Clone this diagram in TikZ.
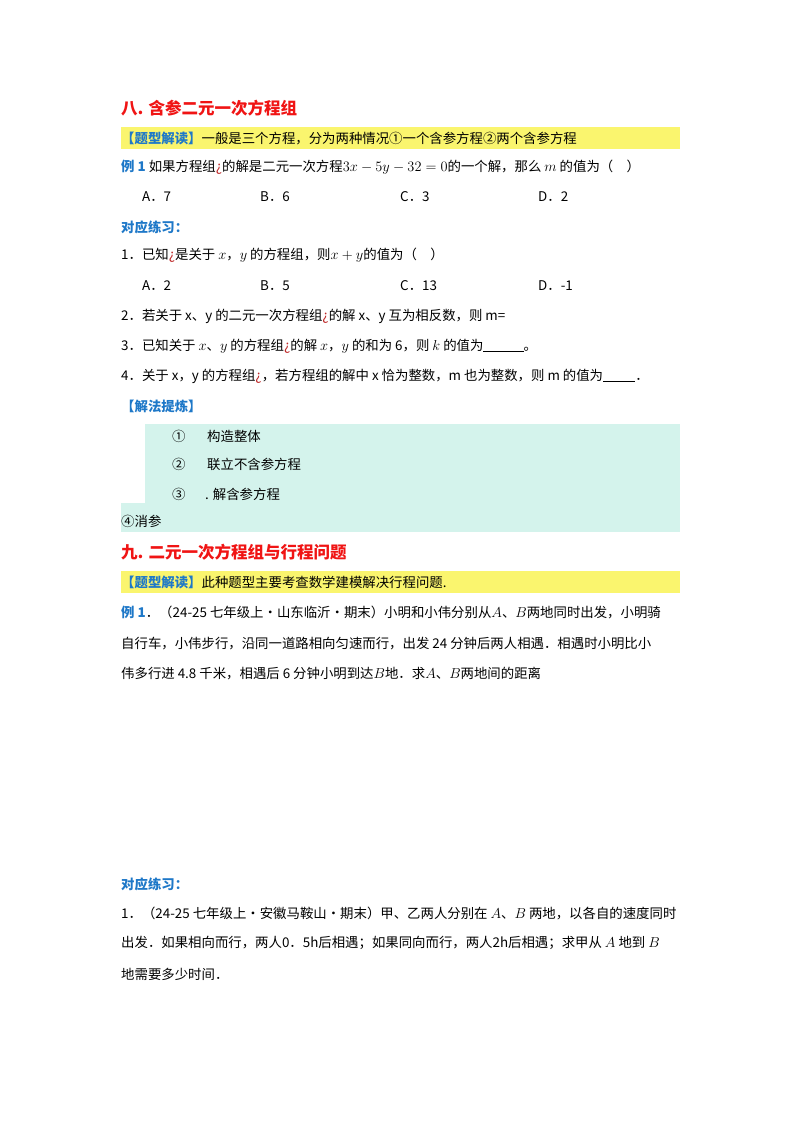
\documentclass[tikz,border=0pt]{standalone}
\usepackage{fontspec}
\setmainfont{Noto Sans CJK SC}
\definecolor{ttred}{RGB}{240,20,20}
\definecolor{ttblue}{RGB}{30,120,200}
\definecolor{hlyel}{RGB}{250,245,110}
\definecolor{boxcyan}{RGB}{212,243,236}
\definecolor{qmark}{RGB}{190,40,40}
\newcommand{\qm}{{\color{qmark}¿}}
\newcommand{\blank}[1]{\underline{\hspace{#1}}}
\tikzset{
 txt/.style={anchor=west,inner sep=0pt,font=\fontsize{13.4}{16}\selectfont},
 ttl/.style={anchor=west,inner sep=0pt,text=ttred,font=\fontsize{16.5}{19}\selectfont\bfseries},
 sub/.style={anchor=west,inner sep=0pt,text=ttblue,font=\fontsize{13.4}{16}\selectfont\bfseries}
}
\begin{document}
\begin{tikzpicture}[x=1pt,y=-1pt]
\useasboundingbox[fill=white] (0,0) rectangle (800,1132);
% backgrounds
\fill[hlyel] (121,127) rectangle (680,149);
\fill[boxcyan] (145,424) rectangle (680,504);
\fill[boxcyan] (121,503) rectangle (680,532);
\fill[hlyel] (121,571) rectangle (680,593);
% section 8
\node[ttl] (t8) at (121,108) {八. 含参二元一次方程组};
\node[txt] (r1) at (121,138) {{\color{ttblue}\bfseries【题型解读】}一般是三个方程，分为两种情况①一个含参方程②两个含参方程};
\node[txt] (e1) at (121,167) {{\color{ttblue}\bfseries 例 1} 如果方程组\qm 的解是二元一次方程$3x-5y-32=0$的一个解，那么 $m$ 的值为（\quad）};
\node[txt] (o1a) at (142,197) {A．7};
\node[txt] (o1b) at (260,197) {B．6};
\node[txt] (o1c) at (400,197) {C．3};
\node[txt] (o1d) at (538,197) {D．2};
\node[sub] (p8) at (121,227) {对应练习：};
\node[txt] (q1) at (121,255) {1．已知\qm 是关于 $x$，$y$ 的方程组，则$x+y$的值为（\quad）};
\node[txt] (o2a) at (142,286) {A．2};
\node[txt] (o2b) at (260,286) {B．5};
\node[txt] (o2c) at (400,286) {C．13};
\node[txt] (o2d) at (538,286) {D．-1};
\node[txt] (q2) at (121,316) {2．若关于 x、y 的二元一次方程组\qm 的解 x、y 互为相反数，则 m=};
\node[txt] (q3) at (121,346) {3．已知关于 $x$、$y$ 的方程组\qm 的解 $x$，$y$ 的和为 6，则 $k$ 的值为\blank{3em}。};
\node[txt] (q4) at (121,376) {4．关于 x，y 的方程组\qm，若方程组的解中 x 恰为整数，m 也为整数，则 m 的值为\blank{2.4em}．};
\node[sub] (jf) at (121,406) {【解法提炼】};
\node[txt] (s1n) at (172,436) {①}; \node[txt] (s1) at (207,436) {构造整体};
\node[txt] (s2n) at (172,464) {②}; \node[txt] (s2) at (207,464) {联立不含参方程};
\node[txt] (s3n) at (172,494) {③}; \node[txt] (s3) at (205,494) {. 解含参方程};
\node[txt] (s4) at (121,521) {④消参};
% section 9
\node[ttl] (t9) at (121,552) {九. 二元一次方程组与行程问题};
\node[txt] (r2) at (121,582) {{\color{ttblue}\bfseries【题型解读】}此种题型主要考查数学建模解决行程问题.};
\node[txt] (e2a) at (121,612) {{\color{ttblue}\bfseries 例 1}．（24-25 七年级上·山东临沂·期末）小明和小伟分别从$A$、$B$两地同时出发，小明骑};
\node[txt] (e2b) at (121,644) {自行车，小伟步行，沿同一道路相向匀速而行，出发 24 分钟后两人相遇．相遇时小明比小};
\node[txt] (e2c) at (121,674) {伟多行进 4.8 千米，相遇后 6 分钟小明到达$B$地．求$A$、$B$两地间的距离};
\node[sub] (p9) at (121,884) {对应练习：};
\node[txt] (w1a) at (121,913) {1．（24-25 七年级上·安徽马鞍山·期末）甲、乙两人分别在 $A$、$B$ 两地，以各自的速度同时};
\node[txt] (w1b) at (121,943) {出发．如果相向而行，两人0．5h后相遇；如果同向而行，两人2h后相遇；求甲从 $A$ 地到 $B$};
\node[txt] (w1c) at (121,974) {地需要多少时间．};
\end{tikzpicture}
\end{document}
